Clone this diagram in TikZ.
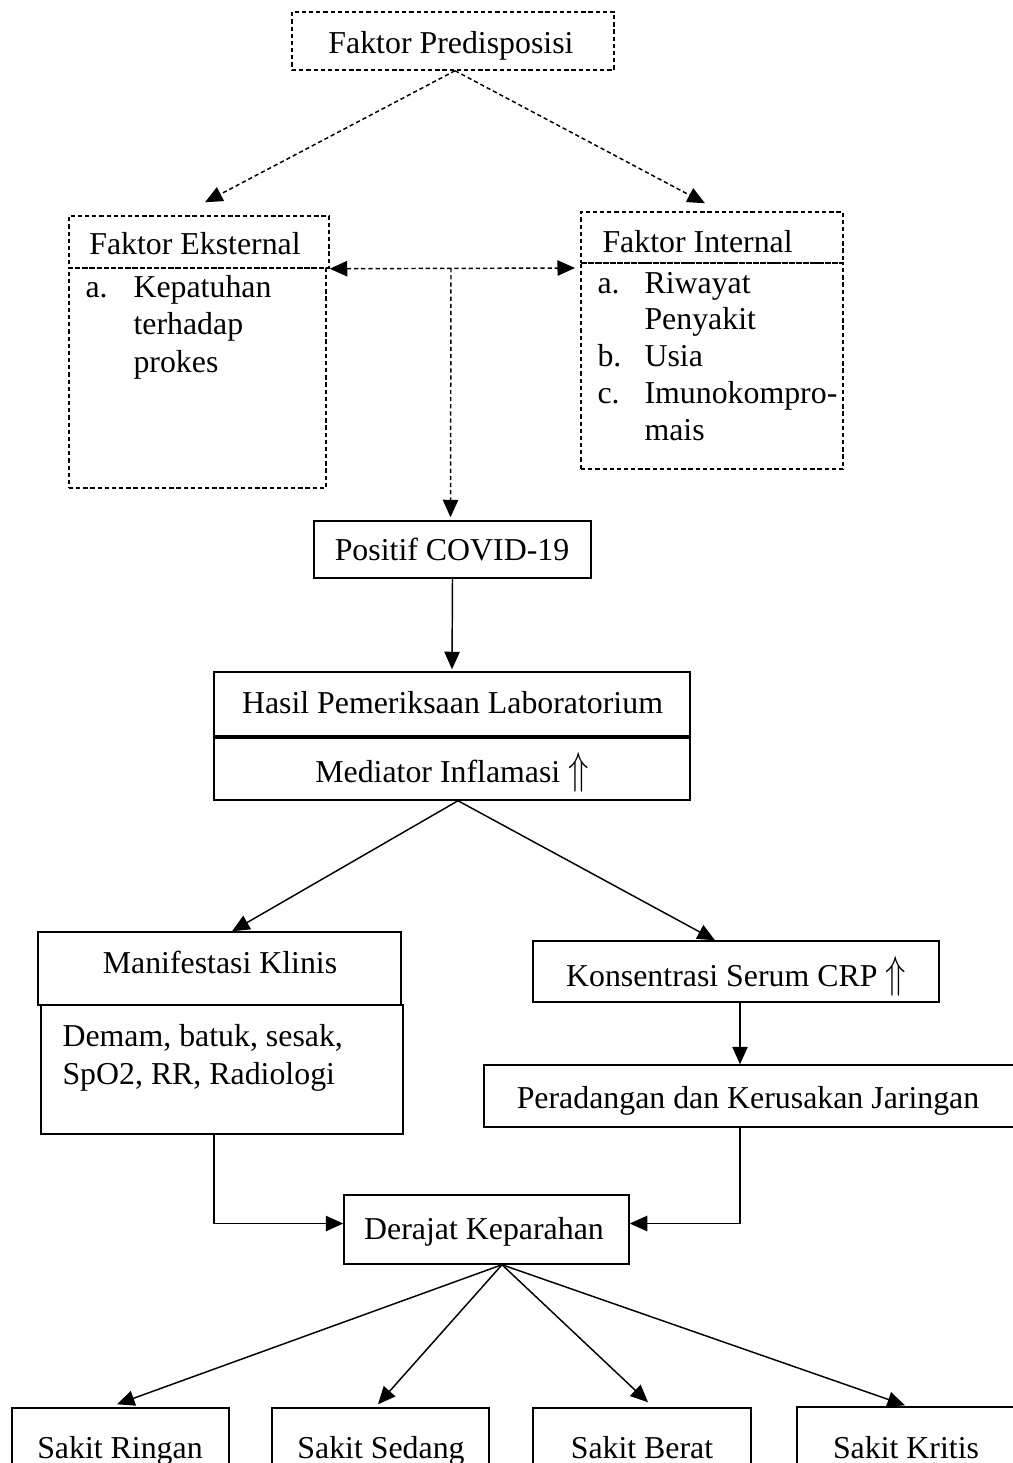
\documentclass[tikz,border=0pt]{standalone}
\usepackage{fontspec}
\setmainfont{Liberation Serif}
\usetikzlibrary{fit,arrows.meta,calc}
\newcommand{\upar}{\raisebox{-0.5pt}{\scalebox{1.05}[1.4]{$\Uparrow$}}}
\begin{document}
\begin{tikzpicture}[x=0.3768pt,y=-0.3768pt,
  bx/.style={draw, inner sep=0pt, line width=0.55pt},
  dbx/.style={bx, dash pattern=on 1.6pt off 1.1pt},
  txt/.style={inner sep=0pt, font=\fontsize{12}{14}\selectfont},
  arr/.style={line width=0.55pt, -{Triangle[length=6.6pt,width=5.8pt]}},
  darr/.style={arr, dash pattern=on 1.6pt off 1.1pt},
  dbiarr/.style={line width=0.55pt, dash pattern=on 1.6pt off 1.1pt,
    {Triangle[length=6.6pt,width=5.8pt]}-{Triangle[length=6.6pt,width=5.8pt]}}]
\useasboundingbox (0,0) rectangle (1012,1463);

% boxes
\node[dbx, fit={(292,12) (614,70)}] (pred) {};
\node[dbx, fit={(69,216) (329,268)}] (exth) {};
\node[dbx, fit={(69,268) (326,488)}] (extb) {};
\node[dbx, fit={(581,212) (843,263)}] (inth) {};
\node[dbx, fit={(581,263) (843,469)}] (intb) {};
\node[bx, fit={(314,521) (591,578)}] (pos) {};
\node[bx, fit={(214,672) (690,736)}] (hasil) {};
\node[bx, fit={(214,738) (690,800)}] (med) {};
\node[bx, fit={(38,932) (401,1005)}] (man) {};
\node[bx, fit={(41,1005) (403,1134)}] (manb) {};
\node[bx, fit={(533,941) (939,1002)}] (kon) {};
\node[bx, fit={(484,1065) (1020,1127)}] (per) {};
\node[bx, fit={(344,1195) (629,1264)}] (der) {};
\node[bx, fit={(12,1408) (229,1480)}] (r1) {};
\node[bx, fit={(272,1408) (489,1480)}] (r2) {};
\node[bx, fit={(533,1408) (751,1480)}] (r3) {};
\node[bx, fit={(797,1407) (1016,1480)}] (r4) {};

% texts
\node[txt, anchor=base] (tpred) at (451,53) {Faktor Predisposisi};
\node[txt, anchor=base] (text) at (195,254) {Faktor Eksternal};
\node[txt, anchor=base west] (ea) at (85,297) {a.};
\node[txt, anchor=base west] (e1) at (133,297) {Kepatuhan};
\node[txt, anchor=base west] (e2) at (133,334.5) {terhadap};
\node[txt, anchor=base west] (e3) at (133,372) {prokes};
\node[txt, anchor=base west] (tint) at (602,252) {Faktor Internal};
\node[txt, anchor=base west] (ia) at (597,293) {a.};
\node[txt, anchor=base west] (i1) at (644,293) {Riwayat};
\node[txt, anchor=base west] (i2) at (644,329) {Penyakit};
\node[txt, anchor=base west] (ib) at (597,366) {b.};
\node[txt, anchor=base west] (i3) at (644,366) {Usia};
\node[txt, anchor=base west] (ic) at (597,403) {c.};
\node[txt, anchor=base west] (i4) at (644,403) {Imunokompro-};
\node[txt, anchor=base west] (i5) at (644,440) {mais};
\node[txt, anchor=base] (tpos) at (452,560) {Positif COVID-19};
\node[txt, anchor=base] (thasil) at (452.5,713) {Hasil Pemeriksaan Laboratorium};
\node[txt, anchor=base] (tmed) at (452,782) {Mediator Inflamasi \upar};
\node[txt, anchor=base] (tman) at (220,973) {Manifestasi Klinis};
\node[txt, anchor=base west] (m1) at (62,1046) {Demam, batuk, sesak,};
\node[txt, anchor=base west] (m2) at (62,1084) {SpO2, RR, Radiologi};
\node[txt, anchor=base] (tkon) at (736,986) {Konsentrasi Serum CRP \upar};
\node[txt, anchor=base] (tper) at (748,1108) {Peradangan dan Kerusakan Jaringan};
\node[txt, anchor=base] (tder) at (484,1239) {Derajat Keparahan};
\node[txt, anchor=base] (tr1) at (120,1458) {Sakit Ringan};
\node[txt, anchor=base] (tr2) at (381,1458) {Sakit Sedang};
\node[txt, anchor=base] (tr3) at (642,1458) {Sakit Berat};
\node[txt, anchor=base] (tr4) at (906,1458) {Sakit Kritis};

% connectors
\coordinate (jx) at (451,268);
\coordinate (jr) at (575,268);
\draw[darr] ($(pred.south)+(2,0)$) -- ($(exth.north)+(6,-13)$);
\draw[darr] ($(pred.south)+(2,0)$) -- ($(inth.north)+(-7,-8)$);
\draw[dbiarr] (exth.south east) -- (jr);
\draw[darr] (jx) -- ($(pos.north)+(-2,-3)$);
\draw[arr] (pos.south) -- ($(hasil.north)+(0,-2)$);
\draw[arr] ($(med.south)+(6,0)$) -- ($(man.north)+(12.5,0)$);
\draw[arr] ($(med.south)+(6,0)$) -- ($(kon.north)+(-21,0)$);
\draw[arr] ($(kon.south)+(4,0)$) -- ($(per.north)+(-12,0)$);
\draw[arr] ($(manb.south)+(-8,0)$) |- ($(der.west)+(0,-6)$);
\draw[arr] ($(per.south)+(-12,0)$) |- ($(der.east)+(0,-6)$);
\draw[arr] ($(der.south)+(15.5,0)$) -- ($(r1.north)+(-3.5,-3)$);
\draw[arr] ($(der.south)+(15.5,0)$) -- ($(r2.north)+(-2.5,-3)$);
\draw[arr] ($(der.south)+(15.5,0)$) -- ($(r3.north)+(6,-5)$);
\draw[arr] ($(der.south)+(15.5,0)$) -- ($(r4.north)+(-1.5,-1)$);
\end{tikzpicture}
\end{document}
